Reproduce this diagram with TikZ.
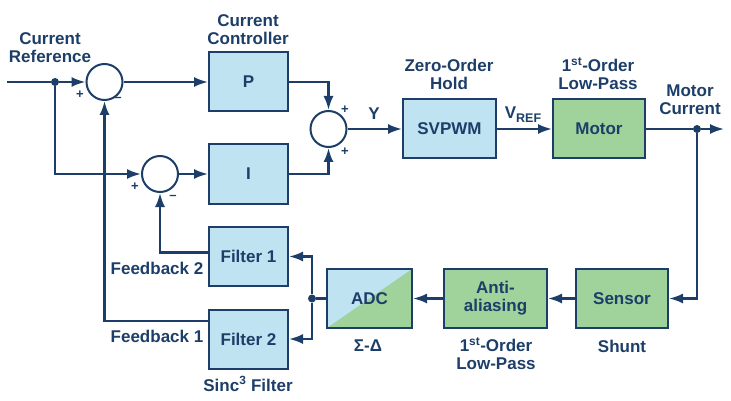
\documentclass[tikz,border=0pt]{standalone}
\usepackage{fontspec}
\setmainfont{Liberation Sans}
\usetikzlibrary{arrows.meta}
\definecolor{navy}{RGB}{28,62,104}
\definecolor{bluefill}{RGB}{192,227,242}
\definecolor{greenfill}{RGB}{160,210,155}
\tikzset{
  lbl/.style={font=\fontsize{17}{18}\selectfont\bfseries, text=navy, align=center, inner sep=0pt},
  sgn/.style={font=\fontsize{13}{13}\selectfont\bfseries, text=navy, inner sep=0pt},
  blk/.style={draw=navy, line width=2pt, minimum width=79pt, minimum height=59pt, inner sep=0pt,
              font=\fontsize{17}{18}\selectfont\bfseries, text=navy, align=center},
  bluebox/.style={blk, fill=bluefill},
  greenbox/.style={blk, fill=greenfill},
  sumc/.style={circle, draw=navy, line width=2pt, fill=white, minimum size=36pt, inner sep=0pt},
  jdot/.style={circle, fill=navy, minimum size=8pt, inner sep=0pt},
  wire/.style={draw=navy, line width=2.2pt},
  arr/.style={wire, -{Latex[length=14pt,width=10pt]}},
}
\begin{document}
\begin{tikzpicture}[x=1pt,y=-1pt]
\useasboundingbox (0,0) rectangle (731,401);
% blocks
\node[bluebox] (P) at (248.5,82) {P};
\node[bluebox] (I) at (248.5,174) {I};
\node[bluebox] (F1) at (248.5,256.5) {Filter 1};
\node[bluebox] (F2) at (248.5,339) {Filter 2};
\node[bluebox, minimum width=93pt] (svpwm) at (449.5,129) {SVPWM};
\node[greenbox, minimum width=92pt] (motor) at (599,129) {Motor};
\node[greenbox, minimum width=92pt] (sensor) at (622,298.5) {Sensor};
\node[greenbox, minimum width=103pt] (anti) at (495.5,298.5) {Anti-\\aliasing};
\node[blk, minimum width=85pt, fill=bluefill,
  path picture={\fill[greenfill] (path picture bounding box.south west) -- (path picture bounding box.north east) -- (path picture bounding box.south east) -- cycle;}]
  (adc) at (369.5,298.5) {ADC};
% summing junctions
\node[sumc] (s1) at (104.5,82) {};
\node[sumc] (s2) at (160,174) {};
\node[sumc] (s3) at (328.5,129) {};
% dots
\coordinate (in) at (7,82);
\node[jdot] (d1) at (55,82) {};
\node[jdot] (d2) at (697,129) {};
\coordinate (out) at (724,129);
\node[jdot] (d3) at (312,298.5) {};
% connectors
\draw[wire] (in) -- (d1);
\draw[arr] (d1) -- (s1);
\draw[arr] (s1) -- (P);
\draw[arr] (P.east) -| (s3.north);
\draw[arr] (d1) |- (s2.west);
\draw[arr] (s2) -- (I);
\draw[arr] (I.east) -| (s3.south);
\draw[arr] ([yshift=18pt]F2.west) -| (s1.south);
\draw[arr] ([yshift=4pt]F1.west) -| (s2.south);
\draw[arr] (s3) -- (svpwm);
\draw[arr] (svpwm) -- (motor);
\draw[wire] (motor) -- (d2);
\draw[arr] (d2) -- (out);
\draw[arr] (d2) |- (sensor.east);
\draw[arr] (sensor) -- (anti);
\draw[arr] (anti) -- (adc);
\draw[wire] (adc) -- (d3);
\draw[arr] (d3) |- (F1.east);
\draw[arr] (d3) |- (F2.east);
% signs
\node[sgn] (p1) at (80,95) {+};
\node[sgn] (m1) at (118,99) {\textendash};
\node[sgn] (p2) at (135,187) {+};
\node[sgn] (m2) at (173,197) {\textendash};
\node[sgn] (p3) at (345,110) {+};
\node[sgn] (p4) at (345,152) {+};
% labels
\node[lbl] (lref) at (50,48) {Current\\Reference};
\node[lbl] (lcc) at (248,30) {Current\\Controller};
\node[lbl] (lzoh) at (449,74) {Zero-Order\\Hold};
\node[lbl] (llp1) at (598,74) {1\textsuperscript{st}-Order\\Low-Pass};
\node[lbl] (lmc) at (690,100) {Motor\\Current};
\node[lbl] (ly) at (374,114) {Y};
\node[lbl] (lvref) at (523,115) {V\raisebox{-4pt}{\fontsize{12.5}{12.5}\selectfont REF}};
\node[lbl] (lfb2) at (157,268) {Feedback 2};
\node[lbl] (lfb1) at (157,336) {Feedback 1};
\node[lbl] (lsinc) at (248,384) {Sinc\textsuperscript{3} Filter};
\node[lbl] (lsd) at (368,346) {Σ-Δ};
\node[lbl] (llp2) at (496,354) {1\textsuperscript{st}-Order\\Low-Pass};
\node[lbl] (lsh) at (622,346) {Shunt};
\end{tikzpicture}
\end{document}
